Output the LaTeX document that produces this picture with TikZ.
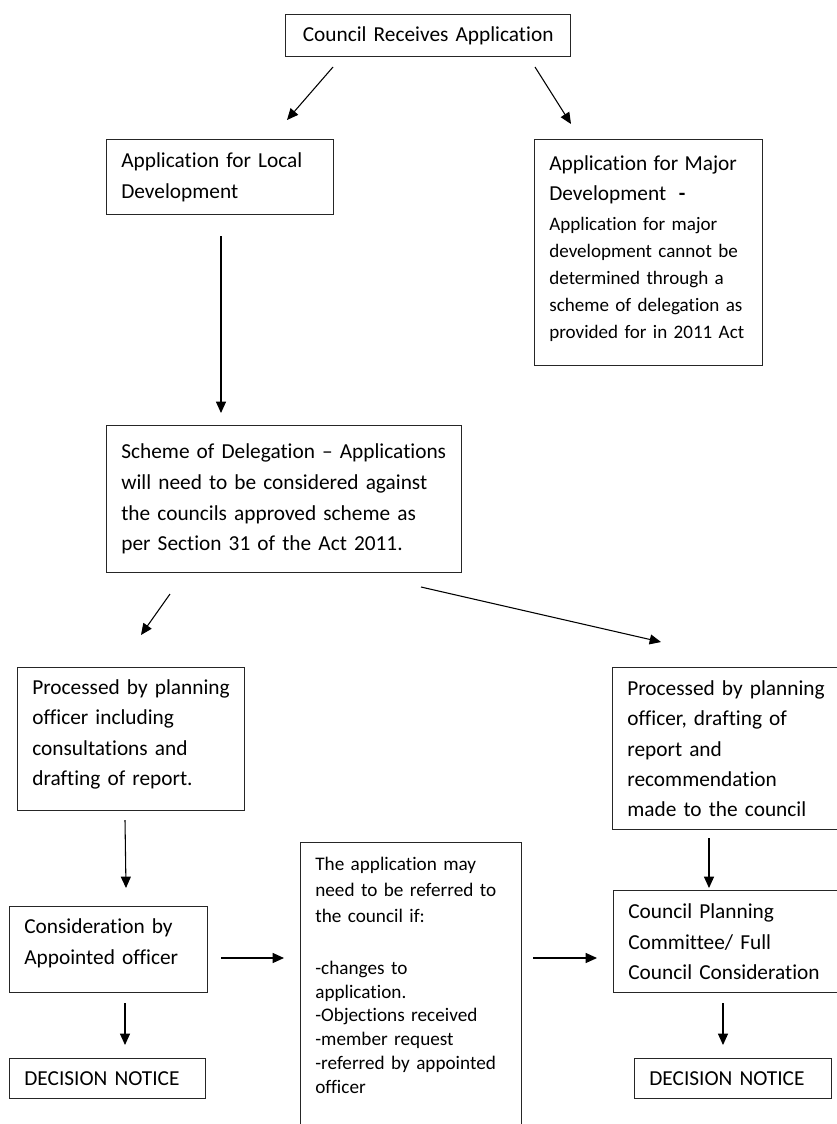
\documentclass[tikz,border=0pt]{standalone}
\usepackage{fontspec}
\setmainfont{Carlito}[Ligatures=NoCommon]
\usepackage{tikz}
\usetikzlibrary{arrows.meta}

\begin{document}
\begin{tikzpicture}[x=0.75pt,y=0.75pt,yscale=-1,xscale=1,
  box/.style={draw=black!85, line width=1pt, anchor=north west, inner xsep=11pt,
    align=left, font=\fontsize{16}{22.8}\selectfont},
  arr/.style={line width=0.8pt, -{Triangle[length=8.5pt,width=7.5pt]}}]
\useasboundingbox (0,0) rectangle (837,1124);

% Top of the flow
\node[box, align=center, inner xsep=6pt, text width=201.75pt, minimum height=31.5pt] (receive) at (285,14) {Council Receives Application};
\node[box, text width=148.25pt, minimum height=56.25pt] (local) at (106,139) {Application for Local\\[0.4pt] Development};
\node[box, text width=149pt, minimum height=169.5pt, font=\fontsize{14.3}{20.25}\selectfont] (major) at (534,139)
  {{\fontsize{16}{23}\selectfont Application for Major}\\[2.25pt]
   {\fontsize{16}{23}\selectfont Development\ \ \textbf{-}}\\[2.25pt]
   Application for major\\ development cannot be\\ determined through a\\ scheme of delegation as\\ provided for in 2011 Act\rule[-9pt]{0pt}{9pt}};
\node[box, text width=244.25pt, minimum height=110.25pt] (scheme) at (106,425)
  {Scheme of Delegation -- Applications\\[0.4pt] will need to be considered against\\[0.4pt] the councils approved scheme as\\[0.4pt] per Section 31 of the Act 2011.\rule[-3pt]{0pt}{3pt}};

% Two processing routes
\node[box, text width=148.25pt, minimum height=107.25pt] (officer) at (17,667)
  {Processed by planning\\ officer including\\ consultations and\\ drafting of report.\rule[-10pt]{0pt}{10pt}};
\node[box, text width=152.75pt, minimum height=121.5pt] (report) at (612,667)
  {Processed by planning\\ officer, drafting of\\ report and\\ recommendation\\ made to the council};

% Bottom row
\node[box, text width=126.5pt, minimum height=64.5pt] (appointed) at (9,906) {Consideration by\\ Appointed officer\rule[-12pt]{0pt}{12pt}};
\node[box, text width=125pt, minimum height=30pt] (noticeL) at (9,1058) {DECISION NOTICE};
\node[box, text width=143.75pt, inner ysep=11pt, font=\fontsize{14.4}{17.85}\selectfont] (refer) at (300,842)
  {The application may\\[1.6pt] need to be referred to\\[1.6pt] the council if:\\[21pt]
   -changes to\\ application.\\ -Objections received\\ -member request\\ -referred by appointed\\ officer\rule[-40pt]{0pt}{40pt}};
\node[box, text width=152pt, minimum height=76.5pt] (committee) at (613,890)
  {Council Planning\\ Committee/ Full\\ Council Consideration};
\node[box, text width=125.75pt, minimum height=30pt] (noticeR) at (634,1058) {DECISION NOTICE};

% Arrow ends
\coordinate (a1s) at (333,67);   \coordinate (a1e) at (287,120);
\coordinate (a2s) at (535,67);   \coordinate (a2e) at (571,124);
\coordinate (a3s) at (221,236);  \coordinate (a3e) at (221,413);
\coordinate (a4s) at (170,594);  \coordinate (a4e) at (141,635);
\coordinate (a5s) at (421,587);  \coordinate (a5e) at (661,642);
\coordinate (a6s) at (125,820);  \coordinate (a6e) at (126,888);
\coordinate (a7s) at (125,1003); \coordinate (a7e) at (125,1045);
\coordinate (a8s) at (221,958);  \coordinate (a8e) at (284,958);
\coordinate (a9s) at (533,958);  \coordinate (a9e) at (597,958);
\coordinate (a10s) at (709,838); \coordinate (a10e) at (709,888);
\coordinate (a11s) at (723,1003);\coordinate (a11e) at (723,1045);

% Arrows
\draw[arr] (a1s) -- (a1e);
\draw[arr] (a2s) -- (a2e);
\draw[arr] (a3s) -- (a3e);
\draw[arr] (a4s) -- (a4e);
\draw[arr] (a5s) -- (a5e);
\draw[arr] (a6s) -- (a6e);
\draw[arr] (a7s) -- (a7e);
\draw[arr] (a8s) -- (a8e);
\draw[arr] (a9s) -- (a9e);
\draw[arr] (a10s) -- (a10e);
\draw[arr] (a11s) -- (a11e);

\end{tikzpicture}
\end{document}
